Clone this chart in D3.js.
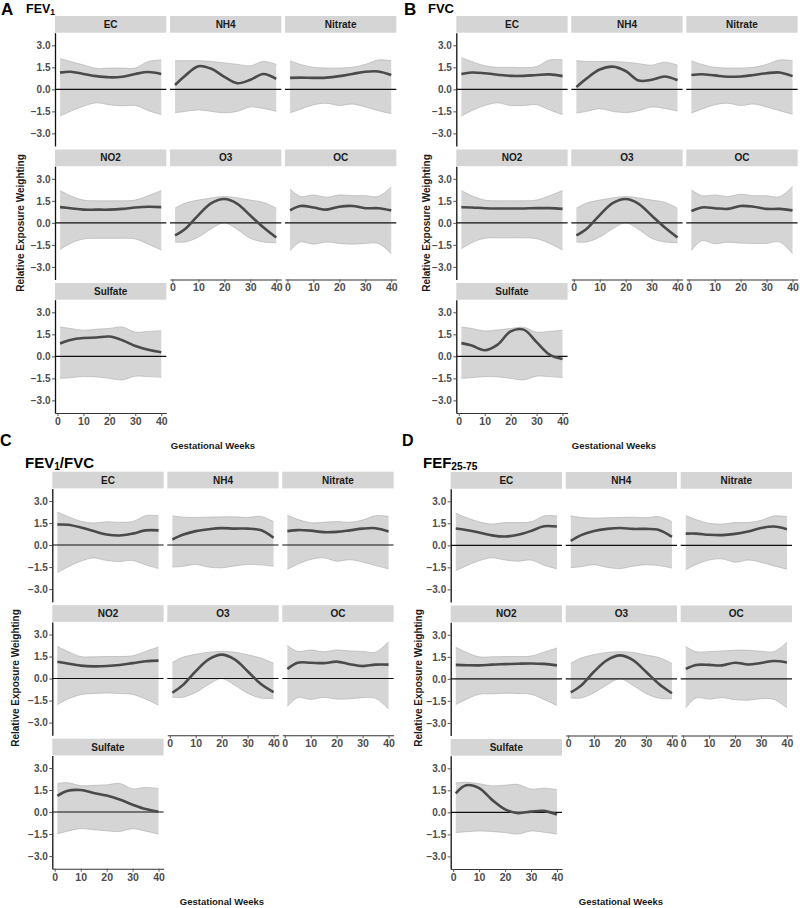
<!DOCTYPE html>
<html><head><meta charset="utf-8">
<script src="https://cdn.jsdelivr.net/npm/d3@7"></script>
<style>
html,body{margin:0;padding:0;background:#fff;}
svg{display:block;font-family:"Liberation Sans",Arial,Helvetica,sans-serif;}
</style></head>
<body>
<svg id="chart" width="800" height="908"></svg>
<script>
// ---------- data ----------
const weeks = [1, 5, 10, 15, 20, 25, 30, 35, 40];
const pollutants = ["EC", "NH4", "Nitrate", "NO2", "O3", "OC", "Sulfate"];
const yTicks = [-3, -1.5, 0, 1.5, 3];
const xTicks = [0, 10, 20, 30, 40];

// Panel A : FEV1
const fev1Est = {
  EC:      [1.14, 1.2, 1.05, 0.9, 0.82, 0.86, 1.05, 1.18, 1.05],
  NH4:     [0.3, 0.95, 1.58, 1.4, 0.85, 0.42, 0.65, 1.05, 0.72],
  Nitrate: [0.78, 0.8, 0.78, 0.8, 0.9, 1.05, 1.2, 1.22, 0.98],
  NO2:     [1.07, 1.0, 0.9, 0.9, 0.9, 0.95, 1.05, 1.1, 1.07],
  O3:      [-0.85, -0.4, 0.53, 1.34, 1.62, 1.3, 0.5, -0.3, -1.0],
  OC:      [0.85, 1.15, 1.05, 0.9, 1.1, 1.15, 1.0, 1.0, 0.85],
  Sulfate: [0.88, 1.12, 1.25, 1.28, 1.35, 1.1, 0.7, 0.45, 0.28]
};
const fev1Upper = {
  EC:      [2.1, 1.9, 1.66, 1.43, 1.45, 1.45, 1.45, 1.9, 2.0],
  NH4:     [1.95, 1.95, 1.95, 1.9, 1.8, 1.7, 1.6, 1.9, 1.7],
  Nitrate: [1.95, 1.7, 1.5, 1.45, 1.45, 1.5, 1.7, 2.0, 1.95],
  NO2:     [2.2, 1.85, 1.55, 1.5, 1.5, 1.5, 1.55, 1.85, 2.2],
  O3:      [1.0, 1.35, 1.55, 1.7, 1.8, 1.7, 1.55, 1.4, 1.0],
  OC:      [2.3, 1.8, 1.9, 1.75, 1.9, 1.85, 1.85, 1.8, 2.45],
  Sulfate: [2.0, 1.9, 1.78, 1.85, 1.9, 2.0, 1.65, 1.7, 1.75]
};
const fev1Lower = {
  EC:      [-1.82, -1.5, -1.15, -0.92, -1.05, -1.12, -1.1, -1.45, -1.72],
  NH4:     [-1.6, -1.5, -1.4, -1.5, -1.6, -1.5, -1.2, -1.3, -1.5],
  Nitrate: [-1.6, -1.35, -1.05, -0.95, -1.1, -1.0, -1.2, -1.45, -1.65],
  NO2:     [-1.82, -1.4, -1.1, -1.05, -1.05, -1.05, -1.1, -1.45, -1.85],
  O3:      [-1.3, -1.3, -0.97, -0.4, 0.0, -0.45, -1.05, -1.3, -1.35],
  OC:      [-1.9, -1.3, -1.45, -1.3, -1.4, -1.45, -1.4, -1.4, -2.1],
  Sulfate: [-1.5, -1.45, -1.38, -1.4, -1.5, -1.6, -1.35, -1.38, -1.42]
};

// Panel B : FVC
const fvcEst = {
  EC:      [1.05, 1.15, 1.1, 1.0, 0.92, 0.92, 0.98, 1.02, 0.9],
  NH4:     [0.15, 0.75, 1.35, 1.55, 1.25, 0.6, 0.65, 0.88, 0.62],
  Nitrate: [0.98, 1.03, 0.95, 0.86, 0.88, 0.98, 1.1, 1.15, 0.9],
  NO2:     [1.06, 1.05, 1.0, 0.98, 0.98, 0.98, 1.0, 1.0, 0.95],
  O3:      [-0.85, -0.4, 0.53, 1.34, 1.62, 1.3, 0.5, -0.3, -1.0],
  OC:      [0.8, 1.05, 1.0, 0.95, 1.15, 1.1, 0.95, 0.95, 0.85],
  Sulfate: [0.9, 0.74, 0.42, 0.8, 1.7, 1.82, 0.97, 0.12, -0.18]
};
const fvcUpper = {
  EC:      [2.15, 1.9, 1.6, 1.5, 1.5, 1.48, 1.55, 2.0, 2.0],
  NH4:     [1.95, 1.9, 1.9, 1.9, 1.85, 1.75, 1.65, 1.85, 1.65],
  Nitrate: [1.95, 1.7, 1.5, 1.45, 1.45, 1.5, 1.7, 2.0, 1.95],
  NO2:     [2.2, 1.85, 1.55, 1.5, 1.5, 1.5, 1.55, 1.85, 2.2],
  O3:      [1.0, 1.35, 1.55, 1.7, 1.8, 1.7, 1.55, 1.4, 1.0],
  OC:      [2.25, 1.85, 1.9, 1.8, 1.95, 1.85, 1.85, 1.78, 2.5],
  Sulfate: [2.0, 1.9, 1.73, 1.8, 1.9, 1.98, 1.65, 1.7, 1.78]
};
const fvcLower = {
  EC:      [-1.82, -1.45, -1.1, -0.92, -1.1, -1.1, -1.05, -1.4, -1.72],
  NH4:     [-1.62, -1.5, -1.32, -1.5, -1.58, -1.45, -1.2, -1.3, -1.48],
  Nitrate: [-1.62, -1.35, -1.05, -0.95, -1.1, -1.0, -1.2, -1.45, -1.7],
  NO2:     [-1.78, -1.35, -1.05, -1.02, -1.02, -1.02, -1.08, -1.4, -1.85],
  O3:      [-1.3, -1.3, -0.97, -0.4, 0.0, -0.45, -1.05, -1.3, -1.35],
  OC:      [-1.9, -1.22, -1.42, -1.32, -1.38, -1.4, -1.4, -1.3, -2.1],
  Sulfate: [-1.5, -1.45, -1.38, -1.4, -1.5, -1.6, -1.35, -1.38, -1.45]
};

// Panel C : FEV1/FVC
const ratioEst = {
  EC:      [1.4, 1.38, 1.2, 0.95, 0.72, 0.65, 0.78, 1.0, 1.0],
  NH4:     [0.38, 0.7, 0.95, 1.08, 1.15, 1.12, 1.12, 1.02, 0.5],
  Nitrate: [0.95, 1.02, 0.98, 0.88, 0.9, 1.0, 1.12, 1.15, 0.92],
  NO2:     [1.15, 1.02, 0.88, 0.83, 0.85, 0.92, 1.05, 1.18, 1.22],
  O3:      [-0.97, -0.45, 0.5, 1.3, 1.63, 1.3, 0.5, -0.35, -0.92],
  OC:      [0.65, 1.08, 1.08, 1.05, 1.15, 0.98, 0.85, 0.95, 0.95],
  Sulfate: [1.1, 1.45, 1.5, 1.3, 1.12, 0.85, 0.5, 0.2, 0.02]
};
const ratioUpper = {
  EC:      [2.25, 1.95, 1.62, 1.5, 1.58, 1.55, 1.6, 2.0, 2.0],
  NH4:     [2.0, 1.9, 1.88, 1.9, 1.92, 1.92, 1.88, 1.95, 1.6],
  Nitrate: [2.03, 1.75, 1.52, 1.55, 1.6, 1.55, 1.7, 2.0, 1.95],
  NO2:     [2.2, 1.85, 1.5, 1.48, 1.5, 1.5, 1.55, 1.85, 2.15],
  O3:      [1.1, 1.45, 1.65, 1.8, 1.85, 1.8, 1.62, 1.4, 1.05],
  OC:      [2.26, 1.85, 1.95, 1.82, 1.95, 1.88, 1.85, 1.8, 2.5],
  Sulfate: [1.95, 2.0, 1.8, 1.82, 1.85, 1.95, 1.58, 1.68, 1.6]
};
const ratioLower = {
  EC:      [-1.88, -1.5, -1.1, -0.88, -1.05, -1.12, -1.05, -1.35, -1.6],
  NH4:     [-1.5, -1.45, -1.32, -1.5, -1.55, -1.42, -1.32, -1.35, -1.45],
  Nitrate: [-1.66, -1.3, -0.98, -0.87, -1.1, -1.0, -1.15, -1.4, -1.62],
  NO2:     [-1.78, -1.4, -1.1, -1.02, -0.98, -1.02, -1.08, -1.4, -1.82],
  O3:      [-1.27, -1.27, -0.95, -0.4, 0.0, -0.45, -1.0, -1.32, -1.35],
  OC:      [-1.9, -1.3, -1.42, -1.28, -1.4, -1.38, -1.3, -1.35, -2.08],
  Sulfate: [-1.48, -1.3, -1.13, -1.2, -1.28, -1.32, -1.13, -1.3, -1.5]
};

// Panel D : FEF25-75
const fefEst = {
  EC:      [1.15, 1.05, 0.88, 0.68, 0.6, 0.72, 0.98, 1.3, 1.28],
  NH4:     [0.3, 0.7, 0.98, 1.12, 1.18, 1.12, 1.12, 1.05, 0.58],
  Nitrate: [0.8, 0.8, 0.72, 0.7, 0.78, 0.95, 1.18, 1.28, 1.1],
  NO2:     [0.95, 0.93, 0.92, 0.97, 1.0, 1.03, 1.05, 1.02, 0.92],
  O3:      [-0.92, -0.45, 0.5, 1.28, 1.6, 1.28, 0.48, -0.35, -0.98],
  OC:      [0.68, 0.95, 0.95, 0.92, 1.1, 0.98, 1.08, 1.22, 1.12],
  Sulfate: [1.3, 1.85, 1.65, 0.85, 0.2, -0.05, 0.05, 0.1, -0.15]
};
const fefUpper = {
  EC:      [2.2, 1.9, 1.6, 1.45, 1.55, 1.55, 1.6, 2.0, 2.0],
  NH4:     [2.0, 1.9, 1.85, 1.88, 1.9, 1.92, 1.88, 1.95, 1.62],
  Nitrate: [2.03, 1.75, 1.5, 1.45, 1.55, 1.55, 1.7, 2.0, 1.95],
  NO2:     [2.15, 1.82, 1.5, 1.5, 1.52, 1.52, 1.55, 1.82, 2.1],
  O3:      [1.05, 1.42, 1.65, 1.8, 1.85, 1.8, 1.62, 1.45, 1.05],
  OC:      [2.2, 1.85, 1.85, 1.9, 1.95, 1.95, 1.88, 1.85, 2.5],
  Sulfate: [2.0, 2.05, 1.95, 1.8, 1.85, 1.9, 1.58, 1.65, 1.55]
};
const fefLower = {
  EC:      [-1.72, -1.4, -1.05, -0.85, -1.0, -1.08, -1.0, -1.35, -1.6],
  NH4:     [-1.52, -1.45, -1.32, -1.5, -1.58, -1.42, -1.32, -1.38, -1.55],
  Nitrate: [-1.66, -1.3, -1.0, -0.92, -1.15, -1.0, -1.15, -1.4, -1.62],
  NO2:     [-1.75, -1.4, -1.05, -1.02, -0.98, -1.0, -1.05, -1.4, -1.82],
  O3:      [-1.3, -1.3, -0.95, -0.4, 0.0, -0.45, -1.0, -1.32, -1.35],
  OC:      [-1.98, -1.3, -1.38, -1.28, -1.42, -1.45, -1.35, -1.4, -1.98],
  Sulfate: [-1.38, -1.32, -1.27, -1.3, -1.38, -1.48, -1.27, -1.35, -1.48]
};

// ---------- layout ----------
const svg = d3.select("#chart");
const FACET_W = 111.3, STEP = 115, STRIP_H = 16.7, PLOT_H = 113.3, ROW = 133.5;
const FILL = "#d5d5d5";

const panels = [
  {letter: "A", ox: 55,    oy: 16,    est: fev1Est,  up: fev1Upper,  lo: fev1Lower,
   letterPos: [1, 15, 17], titlePos: [26, 12.5, 12.5], title: [["FEV", 0], ["1", 1]],
   ylab: [20, 223], xlab: [213, 449]},
  {letter: "B", ox: 456.3, oy: 16,    est: fvcEst,   up: fvcUpper,   lo: fvcLower,
   letterPos: [404, 15, 17], titlePos: [428, 13, 13], title: [["FVC", 0]],
   ylab: [426, 223], xlab: [614, 449]},
  {letter: "C", ox: 52.3,  oy: 471.7, est: ratioEst, up: ratioUpper, lo: ratioLower,
   letterPos: [0, 446, 16], titlePos: [25, 468, 15], title: [["FEV", 0], ["1", 1], ["/FVC", 0]],
   ylab: [15, 678], xlab: [222, 905]},
  {letter: "D", ox: 450.7, oy: 472,   est: fefEst,   up: fefUpper,   lo: fefLower,
   letterPos: [402, 446, 16], titlePos: [423, 468, 15], title: [["FEF", 0], ["25-75", 1]],
   ylab: [418, 678], xlab: [621, 905]}
];

const fmt = d => d3.format(".1f")(d);

panels.forEach(P => {
  const g = svg.append("g");
  // letter
  g.append("text").attr("x", P.letterPos[0]).attr("y", P.letterPos[1])
    .attr("font-size", P.letterPos[2]).attr("font-weight", "bold").attr("fill", "#000")
    .text(P.letter);
  // title
  const t = g.append("text").attr("x", P.titlePos[0]).attr("y", P.titlePos[1])
    .attr("font-size", P.titlePos[2]).attr("font-weight", "bold").attr("fill", "#000");
  let shifted = false;
  P.title.forEach(([s, sub]) => {
    const ts = t.append("tspan").text(s);
    if (sub) { ts.attr("font-size", P.titlePos[2] * 0.68).attr("dy", 2); shifted = true; }
    else if (shifted) { ts.attr("dy", -2); shifted = false; }
  });

  pollutants.forEach((p, i) => {
    const col = i % 3, row = Math.floor(i / 3);
    const fx = P.ox + col * STEP;
    const sy = P.oy + row * ROW;
    const py = sy + STRIP_H;
    const x = d3.scaleLinear().domain([-0.95, 41.95]).range([fx, fx + FACET_W]);
    const y = d3.scaleLinear().domain([-3.86, 3.86]).range([py + PLOT_H, py]);
    const fg = g.append("g");

    // strip
    fg.append("rect").attr("x", fx).attr("y", sy).attr("width", FACET_W).attr("height", STRIP_H)
      .attr("fill", FILL);
    fg.append("text").attr("x", fx + FACET_W / 2).attr("y", sy + STRIP_H / 2 + 3.6)
      .attr("text-anchor", "middle").attr("font-size", 10).attr("font-weight", "bold")
      .attr("fill", "#1a1a1a").text(p);

    const rows = weeks.map((w, k) => ({w, est: P.est[p][k], up: P.up[p][k], lo: P.lo[p][k]}));
    const curve = d3.curveCatmullRom.alpha(0.5);
    const area = d3.area().x(d => x(d.w)).y0(d => y(d.lo)).y1(d => y(d.up)).curve(curve);
    const upLine = d3.line().x(d => x(d.w)).y(d => y(d.up)).curve(curve);
    const loLine = d3.line().x(d => x(d.w)).y(d => y(d.lo)).curve(curve);
    const estLine = d3.line().x(d => x(d.w)).y(d => y(d.est)).curve(curve);

    fg.append("path").attr("d", area(rows)).attr("fill", FILL);
    fg.append("path").attr("d", upLine(rows)).attr("fill", "none").attr("stroke", "#b3b3b3").attr("stroke-width", 0.7);
    fg.append("path").attr("d", loLine(rows)).attr("fill", "none").attr("stroke", "#b3b3b3").attr("stroke-width", 0.7);
    fg.append("line").attr("x1", fx).attr("x2", fx + FACET_W).attr("y1", y(0)).attr("y2", y(0))
      .attr("stroke", "#111").attr("stroke-width", 1.1);
    fg.append("path").attr("d", estLine(rows)).attr("fill", "none").attr("stroke", "#4a4a4a")
      .attr("stroke-width", 2.6).attr("stroke-linecap", "butt");

    // y axis
    if (col === 0) {
      const ya = fg.append("g").attr("transform", `translate(${fx},0)`)
        .call(d3.axisLeft(y).tickValues(yTicks).tickFormat(fmt).tickSize(3).tickSizeOuter(0));
      ya.select(".domain").attr("stroke", "#111").attr("stroke-width", 1.3);
      ya.selectAll(".tick line").attr("stroke", "#555");
      ya.selectAll(".tick text").attr("font-size", 10).attr("font-weight", "bold")
        .attr("fill", "#4d4d4d").attr("font-family", "Liberation Sans, Arial, sans-serif").attr("x", -4.5);
    }
    // x axis
    if (row === 2 || (row === 1 && col > 0)) {
      const xa = fg.append("g").attr("transform", `translate(0,${py + PLOT_H})`)
        .call(d3.axisBottom(x).tickValues(xTicks).tickSize(3).tickSizeOuter(0));
      xa.select(".domain").attr("stroke", "#333").attr("stroke-width", 1.1);
      xa.selectAll(".tick line").attr("stroke", "#555");
      xa.selectAll(".tick text").attr("font-size", 10.5).attr("font-weight", "bold")
        .attr("fill", "#4d4d4d").attr("font-family", "Liberation Sans, Arial, sans-serif").attr("y", 4.5);
    }
  });

  // axis titles
  g.append("text").attr("transform", `translate(${P.ylab[0]},${P.ylab[1]}) rotate(-90)`)
    .attr("text-anchor", "middle").attr("dy", "0.35em").attr("font-size", 10).attr("font-weight", "bold")
    .attr("fill", "#1a1a1a").text("Relative Exposure Weighting");
  g.append("text").attr("x", P.xlab[0]).attr("y", P.xlab[1]).attr("text-anchor", "middle")
    .attr("font-size", 9.5).attr("font-weight", "bold").attr("fill", "#1a1a1a").text("Gestational Weeks");
});
</script>
</body></html>
